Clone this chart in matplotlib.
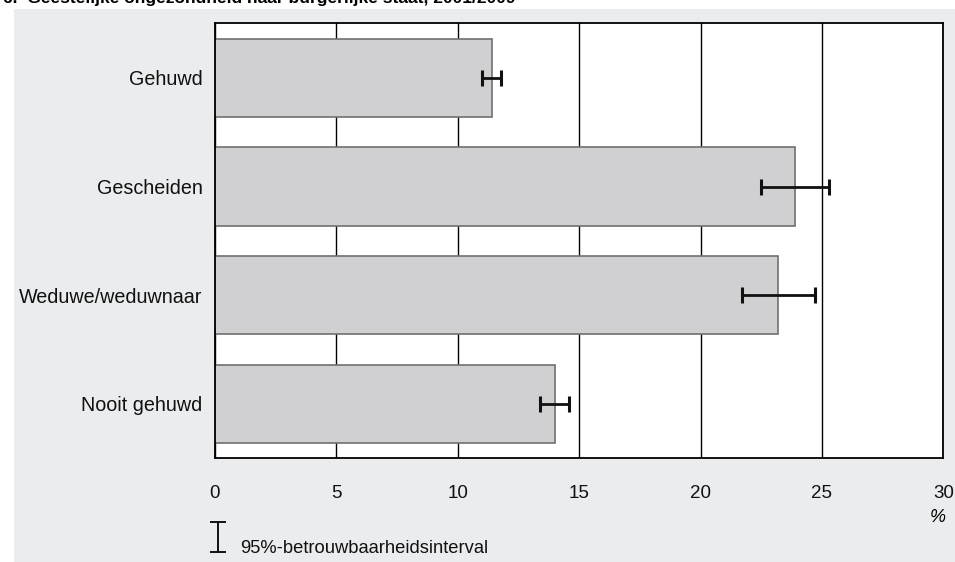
import matplotlib
matplotlib.use('Agg')
from matplotlib import pyplot as plt
from matplotlib.patches import Rectangle
from matplotlib.lines import Line2D

categories = ['Gehuwd', 'Gescheiden', 'Weduwe/weduwnaar', 'Nooit gehuwd']
values = [11.4, 23.9, 23.2, 14.0]
ci_low = [11.0, 22.5, 21.7, 13.4]
ci_high = [11.8, 25.3, 24.7, 14.6]
x_ticks = [0, 5, 10, 15, 20, 25, 30]

plt.rcParams['font.family'] = ['Liberation Sans', 'DejaVu Sans']

fig = plt.figure(figsize=(9.55, 5.62), dpi=100)
fig.patch.set_facecolor('white')

# grey panel behind the chart
fig.add_artist(Rectangle((14 / 955, 0), 1, 1 - 9 / 562, transform=fig.transFigure,
                         facecolor='#ebecee', edgecolor='none', zorder=0))

# heading sits partly above the top edge of the figure
fig.text(0.003, 1 - 3.5 / 562, '6.  Geestelijke ongezondheid naar burgerlijke staat, 2001/2009',
         fontsize=12.5, fontweight='bold', va='baseline', ha='left')

ax = fig.add_axes([215 / 955, 1 - 457.7 / 562, 728.3 / 955, 435 / 562])
ax.set_facecolor('white')
ax.set_axisbelow(True)

pos = list(range(len(categories)))
ax.barh(pos, values, height=0.72, color='#d0d0d2', edgecolor='#707070', linewidth=1.2, zorder=2)

err_lo = [v - lo for v, lo in zip(values, ci_low)]
err_hi = [hi - v for v, hi in zip(values, ci_high)]
ax.errorbar(values, pos, xerr=[err_lo, err_hi], fmt='none', ecolor='#111111',
            elinewidth=2, capsize=5.5, capthick=2.2, zorder=3)

ax.set_xlim(0, 30)
ax.set_ylim(3.495, -0.508)
ax.set_xticks(x_ticks)
ax.set_xticklabels([str(t) for t in x_ticks])
ax.set_yticks(pos)
ax.set_yticklabels(categories)
ax.tick_params(axis='both', length=0, labelsize=13.5, colors='#111111')
ax.tick_params(axis='y', labelsize=14.2, pad=9)
ax.tick_params(axis='x', pad=20)

ax.grid(axis='x', color='black', linewidth=1)
ax.grid(axis='y', visible=False)
for s in ax.spines.values():
    s.set_color('black')
    s.set_linewidth(1.3)

fig.text(938 / 955, 1 - 517 / 562, '%', fontsize=13, style='italic', ha='center', va='center')

# legend symbol for the confidence interval
lx, ytop, ybot, cw = 218 / 955, 1 - 522.3 / 562, 1 - 552.3 / 562, 7 / 955
fig.add_artist(Line2D([lx, lx], [ybot, ytop], color='#111111', linewidth=1.4, transform=fig.transFigure))
fig.add_artist(Line2D([lx - cw, lx + cw], [ytop, ytop], color='#111111', linewidth=1.4, transform=fig.transFigure))
fig.add_artist(Line2D([lx - cw, lx + cw], [ybot, ybot], color='#111111', linewidth=1.4, transform=fig.transFigure))
fig.text(240 / 955, 1 - 553 / 562, '95%-betrouwbaarheidsinterval', fontsize=13.2,
         ha='left', va='baseline', color='#111111')

fig.savefig('out.png', dpi=100, facecolor=fig.get_facecolor())
